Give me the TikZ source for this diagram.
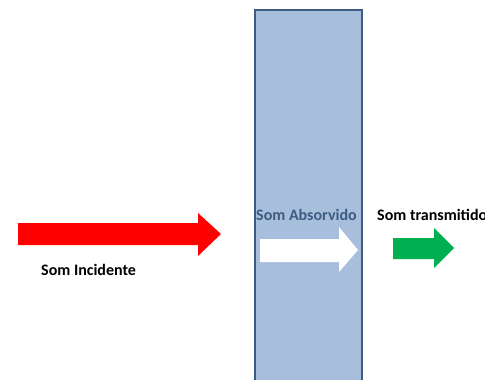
\documentclass[tikz,border=0pt]{standalone}
\usepackage{fontspec}
\setmainfont{Carlito}
\definecolor{panelfill}{RGB}{167,190,221}
\definecolor{paneldraw}{RGB}{62,92,128}
\definecolor{abstext}{RGB}{62,92,128}
\definecolor{arrgreen}{RGB}{0,176,80}
\tikzset{
  lbl/.style={font=\bfseries\fontsize{16}{19}\selectfont, inner sep=0pt, anchor=west},
}
\begin{document}
\begin{tikzpicture}[x=1pt,y=-1pt]
\useasboundingbox (0,0) rectangle (485,380);
\clip (0,0) rectangle (485,380);
% panel
\draw[fill=panelfill, draw=paneldraw, line width=2pt] (255,10) rectangle (362,390);
% red arrow
\fill[red] (18,223) -- (198,223) -- (198,213) -- (221,234) -- (198,256) -- (198,245) -- (18,245) -- cycle;
% white arrow
\fill[white] (260,239) -- (339,239) -- (339,227) -- (358,250) -- (339,272) -- (339,262) -- (260,262) -- cycle;
% green arrow
\fill[arrgreen] (393,238) -- (434,238) -- (434,228) -- (454,248) -- (434,268) -- (434,259) -- (393,259) -- cycle;
% labels
\node[lbl] (inc) at (41,270) {Som Incidente};
\node[lbl, text=abstext] (abs) at (256,215) {Som Absorvido};
\node[lbl] (tra) at (377,215) {Som transmitido};
\end{tikzpicture}
\end{document}
